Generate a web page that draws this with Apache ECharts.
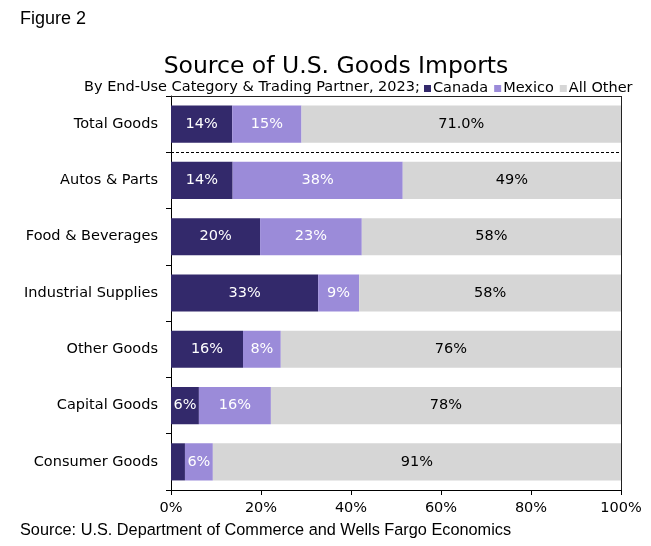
<!DOCTYPE html>
<html><head><meta charset="utf-8">
<script src="https://cdn.jsdelivr.net/npm/echarts@6/dist/echarts.min.js"></script>
<style>html,body{margin:0;padding:0;background:#fff}#c{width:651px;height:546px}</style>
</head><body><div id="c"></div>
<script>
const categories = ['Total Goods','Autos & Parts','Food & Beverages','Industrial Supplies','Other Goods','Capital Goods','Consumer Goods'];
const canada = [13.6, 13.7, 19.8, 32.7, 16.0, 6.2, 3.1];
const mexico = [15.4, 37.8, 22.6, 9.1, 8.4, 16.0, 6.2];
const allOther = [71.0, 48.5, 57.6, 58.2, 75.6, 77.8, 90.7];
const xTicks = [0, 20, 40, 60, 80, 100];

const font = 'DejaVu Sans';
const chart = echarts.init(document.getElementById('c'));
function lbl(color, idxFmt) {
  return {
    show: true, position: 'inside', color: color, fontFamily: font, fontSize: 14.5,
    formatter: p => {
      if (p.value < 4) return '';
      if (idxFmt && p.dataIndex === 0) return p.value.toFixed(1) + '%';
      return Math.round(p.value) + '%';
    }
  };
}
const G = {left: 171, right: 30, top: 96, bottom: 56};
chart.setOption({
  animation: false,
  title: [
    {text: 'Figure 2', left: 15, top: 5, textStyle: {fontFamily: 'Liberation Sans', fontSize: 18, fontWeight: 'normal', color: '#000'}},
    {text: 'Source of U.S. Goods Imports', left: 331, textAlign: 'center', top: 50, textStyle: {fontFamily: font, fontSize: 23.5, fontWeight: 'normal', color: '#000'}},
    {text: 'By End-Use Category & Trading Partner, 2023;', left: 79, top: 75, textStyle: {fontFamily: font, fontSize: 14.5, fontWeight: 'normal', color: '#000'}},
    {text: 'Source: U.S. Department of Commerce and Wells Fargo Economics', left: 15, top: 518, textStyle: {fontFamily: 'Liberation Sans', fontSize: 16.3, fontWeight: 'normal', color: '#000'}}
  ],
  legend: {
    left: 419, top: 76, itemWidth: 7, itemHeight: 7, itemGap: 6, icon: 'rect',
    textStyle: {fontFamily: font, fontSize: 14.5, color: '#000', padding: [0, 0, 0, -3]},
    data: ['Canada', 'Mexico', 'All Other']
  },
  grid: Object.assign({show: false}, G),
  xAxis: {
    type: 'value', min: 0, max: 100, interval: 20,
    axisLine: {show: true, lineStyle: {color: '#000'}},
    axisTick: {show: true, length: 5, lineStyle: {color: '#000'}},
    axisLabel: {fontFamily: font, fontSize: 14.5, color: '#000', margin: 11, formatter: v => xTicks.includes(v) ? v + '%' : ''},
    splitLine: {show: false}
  },
  yAxis: {
    type: 'category', data: categories, inverse: true,
    axisLine: {show: true, lineStyle: {color: '#000'}},
    axisTick: {show: true, length: 5, lineStyle: {color: '#000'}},
    axisLabel: {fontFamily: font, fontSize: 14.5, color: '#000', margin: 13},
    splitLine: {show: false}
  },
  series: [
    {name: 'Canada', type: 'bar', stack: 's', data: canada, barWidth: '66%', itemStyle: {color: '#33296b'}, label: lbl('#fff')},
    {name: 'Mexico', type: 'bar', stack: 's', data: mexico, itemStyle: {color: '#9b8bd9'}, label: lbl('#fff')},
    {name: 'All Other', type: 'bar', stack: 's', data: allOther, itemStyle: {color: '#d6d6d6'}, label: lbl('#000', true)}
  ]
});
// frame and dashed separator between Total Goods and the categories
const x0 = chart.convertToPixel({xAxisIndex: 0}, 0);
const x1 = chart.convertToPixel({xAxisIndex: 0}, 100);
const yc0 = chart.convertToPixel({yAxisIndex: 0}, categories[0]);
const yc1 = chart.convertToPixel({yAxisIndex: 0}, categories[1]);
const band = yc1 - yc0;
const yTop = Math.round(yc0 - band / 2);
const yBot = Math.round(yc0 - band / 2 + band * categories.length);
const ySep = Math.round((yc0 + yc1) / 2);
chart.setOption({
  graphic: [
    {type: 'line', shape: {x1: x0, y1: yTop + 0.5, x2: x1 + 1, y2: yTop + 0.5}, style: {stroke: '#222', lineWidth: 1}, z: 100},
    {type: 'line', shape: {x1: x1 + 0.5, y1: yTop, x2: x1 + 0.5, y2: yBot}, style: {stroke: '#222', lineWidth: 1}, z: 100},
    {type: 'line', shape: {x1: x0 - 5, y1: ySep + 0.5, x2: x1, y2: ySep + 0.5}, style: {stroke: '#000', lineWidth: 1, lineDash: [3, 2]}, z: 100}
  ]
});
</script></body></html>
